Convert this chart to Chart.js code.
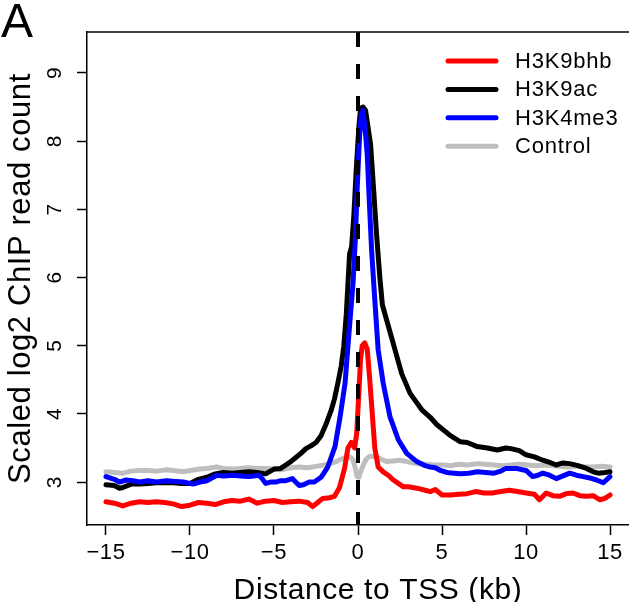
<!DOCTYPE html>
<html>
<head>
<meta charset="utf-8">
<script src="https://cdn.jsdelivr.net/npm/chart.js@4/dist/chart.umd.min.js"></script>
<style>
  html, body { margin: 0; padding: 0; background: #ffffff; }
  #c { display: block; }
</style>
</head>
<body>
<canvas id="c" width="629" height="602"></canvas>
<script>
// ---------- data ----------
const seriesNames = ['H3K9bhb', 'H3K9ac', 'H3K4me3', 'Control'];

const bhbX = [-15,-14.5,-14,-13.5,-13,-12.5,-12,-11.5,-11,-10.5,-10,-9.5,-9,-8.5,-8,-7.5,-7,-6.5,-6,-5.5,-5,-4.5,-4,-3.5,-3,-2.7,-2.4,-2.1,-1.7,-1.4,-1.1,-0.8,-0.6,-0.4,-0.3,-0.2,-0.08,0.05,0.15,0.25,0.4,0.55,0.7,0.85,1.0,1.2,1.5,1.8,2.1,2.4,2.7,3.0,3.5,4.0,4.3,4.6,5.0,5.5,6.0,6.5,7.0,7.5,8.0,8.5,9.0,9.5,10.0,10.5,10.8,11.2,11.6,12.0,12.4,12.8,13.2,13.6,14.0,14.4,14.7,15];
const bhbY = [2.71,2.69,2.65,2.69,2.71,2.70,2.71,2.70,2.68,2.64,2.66,2.70,2.69,2.67,2.71,2.73,2.72,2.75,2.69,2.72,2.73,2.70,2.71,2.72,2.70,2.64,2.70,2.76,2.77,2.79,2.92,3.20,3.50,3.58,3.55,3.50,3.71,4.30,4.80,5.00,5.04,4.95,4.50,4.00,3.50,3.22,3.15,3.10,3.03,2.98,2.93,2.93,2.91,2.88,2.86,2.89,2.81,2.81,2.82,2.83,2.86,2.84,2.84,2.86,2.88,2.86,2.84,2.82,2.74,2.84,2.80,2.79,2.83,2.84,2.80,2.79,2.80,2.74,2.76,2.81];

const acX = [-15,-14.5,-14.2,-14,-13.5,-13,-12.5,-12,-11.5,-11,-10.5,-10,-9.5,-9,-8.5,-8,-7.5,-7,-6.5,-6,-5.5,-5,-4.6,-4.3,-4,-3.7,-3.4,-3.1,-2.8,-2.5,-2.2,-1.9,-1.6,-1.4,-1.2,-1.0,-0.85,-0.7,-0.6,-0.5,-0.38,-0.25,-0.1,0.05,0.15,0.3,0.45,0.6,0.75,0.9,1.1,1.3,1.45,1.7,2.1,2.6,3.1,3.8,4.3,4.7,5.5,6.1,6.5,7.1,7.7,8.3,8.8,9.1,9.6,10.0,10.5,11.0,11.5,11.8,12.2,12.6,13.1,13.6,14.0,14.3,14.7,15];
const acY = [2.96,2.95,2.91,2.92,2.97,2.97,2.98,2.99,2.99,2.99,2.98,2.98,3.04,3.07,3.12,3.14,3.13,3.14,3.15,3.14,3.12,3.19,3.20,3.25,3.30,3.36,3.42,3.49,3.53,3.58,3.68,3.85,4.05,4.22,4.45,4.70,4.98,5.45,5.90,6.35,6.45,6.90,7.60,8.20,8.48,8.50,8.45,8.20,7.95,7.40,6.65,6.00,5.60,5.38,5.03,4.59,4.30,4.06,3.95,3.84,3.68,3.59,3.58,3.52,3.50,3.47,3.50,3.49,3.46,3.40,3.37,3.32,3.28,3.25,3.28,3.27,3.24,3.20,3.15,3.13,3.14,3.15];

const me3X = [-15,-14.5,-14.2,-13.8,-13.4,-13,-12.5,-12,-11.4,-11,-10.4,-9.8,-9.4,-9.0,-8.7,-8.4,-8,-7.4,-7,-6.5,-6.2,-5.9,-5.7,-5.5,-5.2,-4.9,-4.6,-4.3,-3.9,-3.5,-3.25,-2.9,-2.6,-2.2,-1.8,-1.37,-1.07,-0.77,-0.5,-0.3,-0.15,-0.05,0.1,0.2,0.3,0.45,0.55,0.67,0.81,1.0,1.2,1.5,1.9,2.4,2.9,3.5,4.0,4.3,4.6,4.9,5.3,5.7,6.1,6.6,7.1,7.6,8.1,8.5,8.8,9.4,10.0,10.4,10.7,11.0,11.4,11.8,12.2,12.6,13.0,13.4,13.8,14.2,14.6,15];
const me3Y = [3.08,3.04,3.00,3.03,3.02,3.00,3.02,3.00,3.02,3.01,3.00,2.97,3.00,3.02,3.06,3.10,3.09,3.10,3.09,3.08,3.09,3.10,3.05,2.98,3.00,3.00,3.02,3.02,3.05,2.95,2.96,3.00,3.00,3.07,3.22,3.52,3.95,4.45,5.30,5.90,6.60,7.30,8.10,8.40,8.45,8.10,7.80,7.13,6.40,5.67,4.94,4.45,3.96,3.62,3.42,3.30,3.24,3.22,3.21,3.17,3.14,3.13,3.12,3.13,3.15,3.14,3.13,3.16,3.20,3.20,3.17,3.08,3.10,3.13,3.10,3.05,3.09,3.13,3.10,3.08,3.06,3.03,2.99,3.08];

const ctrlX = [-15,-14.5,-14,-13.5,-13,-12.5,-12,-11.4,-11,-10.4,-10,-9.4,-9,-8.4,-8,-7.4,-7,-6.5,-6,-5.5,-5,-4.6,-4,-3.5,-3,-2.5,-2,-1.67,-1.3,-0.87,-0.5,-0.3,-0.18,-0.05,0.05,0.15,0.32,0.5,0.71,1.1,1.4,1.71,2.1,2.5,2.9,3.5,4.0,4.5,5.1,5.5,6.0,6.5,7.1,7.6,8.1,8.6,9.1,9.6,10.1,10.6,11.1,11.6,12.0,12.5,13.0,13.5,14.0,14.5,15];
const ctrlY = [3.15,3.14,3.13,3.16,3.17,3.17,3.16,3.18,3.17,3.15,3.17,3.19,3.20,3.22,3.20,3.19,3.20,3.21,3.20,3.20,3.19,3.18,3.21,3.22,3.21,3.23,3.25,3.27,3.30,3.35,3.37,3.33,3.22,3.08,3.07,3.15,3.25,3.34,3.38,3.37,3.33,3.30,3.31,3.32,3.30,3.27,3.26,3.25,3.25,3.24,3.26,3.25,3.27,3.26,3.25,3.24,3.25,3.26,3.25,3.24,3.25,3.24,3.23,3.22,3.23,3.22,3.22,3.23,3.22];

const xTicks = [-15, -10, -5, 0, 5, 10, 15];
const xTickLabels = ['\u221215', '\u221210', '\u22125', '0', '5', '10', '15'];
const yTicks = [3, 4, 5, 6, 7, 8, 9];
const yTickLabels = ['3', '4', '5', '6', '7', '8', '9'];
const tssX = 0;
const xMin = -16.13, xMax = 16.13;
const yMin = 2.37, yMax = 9.6;

const xLabel = 'Distance to TSS (kb)';
const yLabel = 'Scaled log2 ChIP read count';
const panelLabel = 'A';

// ---------- styles ----------
const colors = ['#ff0000', '#000000', '#0000ff', '#bebebe'];
const drawOrder = [1, 3, 2, 4];
const FONT = "'Liberation Sans', Arial, Helvetica, sans-serif";

function pts(xs, ys) { return xs.map((x, i) => ({ x: x, y: ys[i] })); }
const seriesData = [pts(bhbX, bhbY), pts(acX, acY), pts(me3X, me3Y), pts(ctrlX, ctrlY)];

const datasets = seriesNames.map((name, i) => ({
  label: name,
  data: seriesData[i],
  borderColor: colors[i],
  backgroundColor: colors[i],
  borderWidth: 5,
  pointRadius: 0,
  pointHoverRadius: 0,
  tension: 0,
  borderJoinStyle: 'round',
  borderCapStyle: 'round',
  fill: false,
  order: drawOrder[i]
}));
datasets.push({
  label: 'TSS',
  data: [{ x: tssX, y: yMax }, { x: tssX, y: yMin }],
  borderColor: '#000000',
  borderWidth: 4,
  borderDash: [15, 17],
  borderCapStyle: 'butt',
  pointRadius: 0,
  fill: false,
  order: 0
});

const framePlugin = {
  id: 'frameAndExtras',
  beforeDraw(chart) {
    chart.ctx.letterSpacing = '0.6px';
  },
  afterDraw(chart) {
    const ctx = chart.ctx;
    const a = chart.chartArea;
    const ys = chart.scales.y;
    ctx.save();
    ctx.letterSpacing = '0.6px';
    // top frame line
    ctx.strokeStyle = '#000000';
    ctx.lineWidth = 1.5;
    ctx.beginPath();
    ctx.moveTo(a.left, a.top);
    ctx.lineTo(a.right, a.top);
    ctx.stroke();
    // y tick labels (rotated, as in the reference)
    ctx.fillStyle = '#000000';
    ctx.font = '21px ' + FONT;
    ctx.textAlign = 'center';
    ctx.textBaseline = 'alphabetic';
    yTicks.forEach((v, i) => {
      const py = ys.getPixelForValue(v);
      ctx.save();
      ctx.translate(a.left - 26, py);
      ctx.rotate(-Math.PI / 2);
      ctx.fillText(yTickLabels[i], 0, 0);
      ctx.restore();
    });
    // x axis title
    ctx.font = '30px ' + FONT;
    ctx.textAlign = 'center';
    ctx.fillText(xLabel, a.left + 291, chart.height - 3);
    // legend
    const lx0 = a.left + 361, lx1 = a.left + 409, tx = a.left + 428;
    const ly0 = a.top + 29, dy = 28.4;
    ctx.font = '22px ' + FONT;
    ctx.letterSpacing = '0.8px';
    ctx.textBaseline = 'middle';
    ctx.textAlign = 'left';
    ctx.lineCap = 'round';
    seriesNames.forEach((name, i) => {
      const y = ly0 + i * dy;
      ctx.strokeStyle = colors[i];
      ctx.lineWidth = 5;
      ctx.beginPath();
      ctx.moveTo(lx0, y);
      ctx.lineTo(lx1, y);
      ctx.stroke();
      ctx.fillStyle = '#000000';
      ctx.fillText(name, tx, y + 1);
    });
    // panel label
    ctx.letterSpacing = '0px';
    ctx.font = '48px ' + FONT;
    ctx.textBaseline = 'alphabetic';
    ctx.fillText(panelLabel, 1, 37);
    ctx.restore();
  }
};

new Chart(document.getElementById('c'), {
  type: 'line',
  data: { datasets: datasets },
  plugins: [framePlugin],
  options: {
    responsive: false,
    animation: false,
    devicePixelRatio: 1,
    layout: { padding: { top: 32, right: 0, left: 0, bottom: 0 } },
    plugins: { legend: { display: false }, tooltip: { enabled: false }, title: { display: false } },
    scales: {
      x: {
        type: 'linear',
        min: xMin, max: xMax,
        afterBuildTicks(s) { s.ticks = xTicks.map(v => ({ value: v })); },
        afterFit(s) { s.height = 77; },
        ticks: {
          autoSkip: false, maxRotation: 0, minRotation: 0,
          padding: 5,
          color: '#000000',
          font: { family: FONT, size: 22 },
          callback: (v) => xTickLabels[xTicks.indexOf(v)]
        },
        grid: { display: true, drawOnChartArea: false, drawTicks: true, tickLength: 10, color: '#000000', tickWidth: 1.5 },
        border: { display: true, color: '#000000', width: 1.5 },
        title: { display: false, text: xLabel }
      },
      y: {
        type: 'linear',
        min: yMin, max: yMax,
        afterBuildTicks(s) { s.ticks = yTicks.map(v => ({ value: v })); },
        afterFit(s) { s.width = 87; },
        ticks: { display: false },
        grid: { display: true, drawOnChartArea: false, drawTicks: true, tickLength: 10, color: '#000000', tickWidth: 1.5 },
        border: { display: true, color: '#000000', width: 1.5 },
        title: {
          display: true, text: yLabel, color: '#000000',
          font: { family: FONT, size: 31, lineHeight: 0.8 },
          padding: { top: 8.6, bottom: 0 }
        }
      }
    }
  }
});
</script>
</body>
</html>
